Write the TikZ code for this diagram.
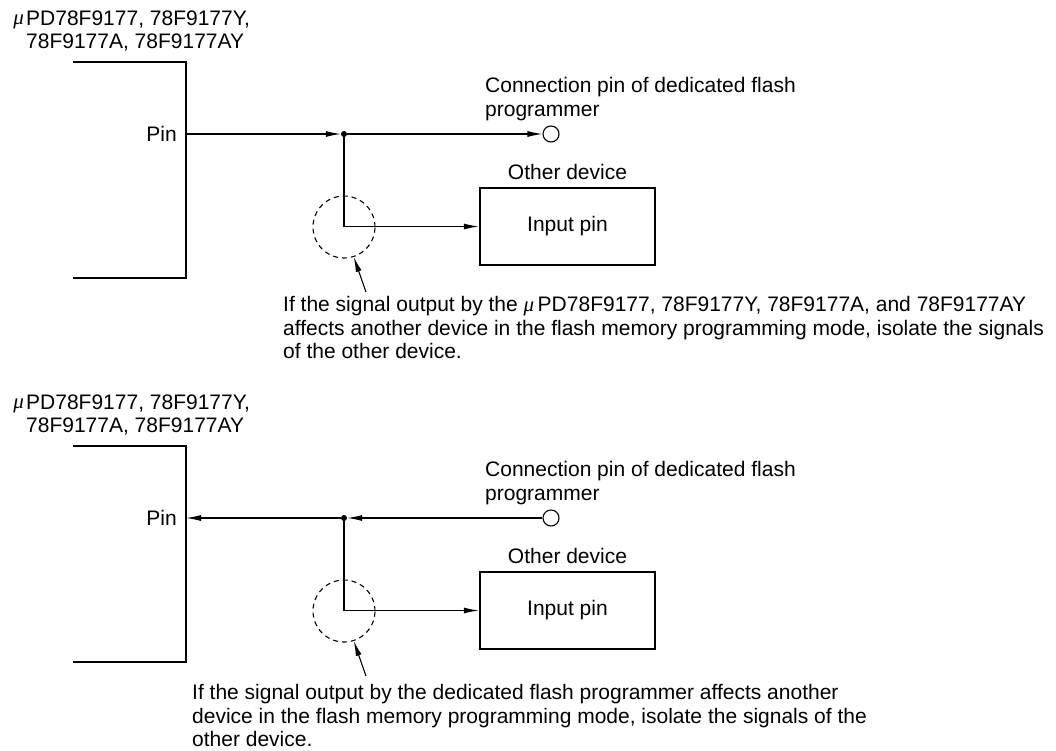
\documentclass[tikz,border=0pt]{standalone}
\usepackage{fontspec}
\setmainfont{Liberation Sans}
\newfontfamily\muserif{Liberation Serif}
\usetikzlibrary{arrows.meta}
\newcommand{\mymu}{{\muserif\itshape μ}}
\tikzset{
  txt/.style={inner sep=0pt, font=\fontsize{21pt}{23.5pt}\selectfont},
  chip/.style={line width=2.8pt},
  thin/.style={line width=1.1pt},
  arr/.style={thin, -{Latex[length=15pt,width=6pt]}},
  devbox/.style={draw, line width=2.5pt, minimum width=175pt, minimum height=77pt, inner sep=0pt, font=\fontsize{21pt}{23.5pt}\selectfont},
  jdot/.style={circle, fill, inner sep=0pt, minimum size=6pt},
  fpin/.style={circle, draw, line width=1.1pt, inner sep=0pt, minimum size=16pt},
  iso/.style={circle, draw, line width=1.1pt, dash pattern=on 5pt off 4pt, inner sep=0pt, minimum size=62pt},
}
\begin{document}
\begin{tikzpicture}[x=1pt,y=-1pt]
\useasboundingbox (0,0) rectangle (1056,750);
% ---------------- top diagram ----------------
\node[txt, anchor=base east] (muA) at (24,24.5) {\mymu};
\node[txt, anchor=base west, align=left] (titleA) at (26,48.5) {PD78F9177, 78F9177Y,\\78F9177A, 78F9177AY};
\draw[chip] (73,62) -- (186,62) -- (186,278) -- (73,278);
\coordinate (pinA) at (186,134);
\node[txt, anchor=east] (pinlA) at (177,134) {Pin};
\node[jdot] (dotA) at (344,134) {};
\node[fpin] (flashA) at (551,134) {};
\node[txt, anchor=base west, align=left] (connA) at (485,116) {Connection pin of dedicated flash\\programmer};
\node[devbox] (boxA) at (567.5,226.5) {Input pin};
\node[txt, anchor=base] (othA) at (567.5,179.5) {Other device};
\node[iso] (isoA) at (344,227) {};
\coordinate (tailA) at (366,292);
\draw[arr] (pinA) -- (dotA);
\draw[arr] (dotA) -- (flashA);
\draw[arr] (dotA.center) |- (boxA.west);
\draw[arr] (tailA) -- (isoA.-72);
\node[txt, anchor=base west, align=left] (noteA) at (283,358.5) {If the signal output by the \mymu\,PD78F9177, 78F9177Y, 78F9177A, and 78F9177AY\\affects another device in the flash memory programming mode, isolate the signals\\of the other device.};
% ---------------- bottom diagram ----------------
\node[txt, anchor=base east] (muB) at (24,408.5) {\mymu};
\node[txt, anchor=base west, align=left] (titleB) at (26,432.5) {PD78F9177, 78F9177Y,\\78F9177A, 78F9177AY};
\draw[chip] (73,446) -- (186,446) -- (186,662) -- (73,662);
\coordinate (pinB) at (186,518);
\node[txt, anchor=east] (pinlB) at (177,518) {Pin};
\node[jdot] (dotB) at (344,518) {};
\node[fpin] (flashB) at (551,518) {};
\node[txt, anchor=base west, align=left] (connB) at (485,500) {Connection pin of dedicated flash\\programmer};
\node[devbox] (boxB) at (567.5,610.5) {Input pin};
\node[txt, anchor=base] (othB) at (567.5,563.5) {Other device};
\node[iso] (isoB) at (344,611) {};
\coordinate (tailB) at (366,676);
\draw[arr] (flashB) -- (dotB);
\draw[arr] (dotB) -- (pinB);
\draw[arr] (dotB.center) |- (boxB.west);
\draw[arr] (tailB) -- (isoB.-72);
\node[txt, anchor=base west, align=left] (noteB) at (192,746.5) {If the signal output by the dedicated flash programmer affects another\\device in the flash memory programming mode, isolate the signals of the\\other device.};
\end{tikzpicture}
\end{document}
